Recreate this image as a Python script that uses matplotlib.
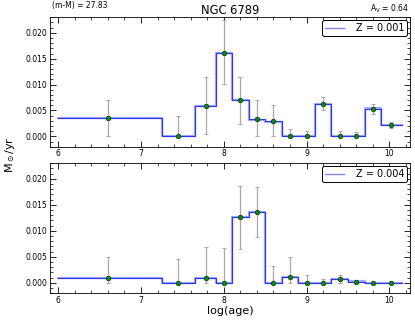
import numpy as np
import matplotlib.pyplot as plt
from matplotlib.ticker import MultipleLocator

# bin edges in log(age)
edges = [6.0, 7.25, 7.65, 7.9, 8.1, 8.3, 8.5, 8.7, 8.9, 9.1, 9.3, 9.5, 9.7, 9.9, 10.15]
centers = [6.6, 7.45, 7.78, 8.0, 8.2, 8.4, 8.6, 8.8, 9.0, 9.2, 9.4, 9.6, 9.8, 10.02]

# Z = 0.001
sfr_a = [0.0035, 0.0, 0.0059, 0.0161, 0.0070, 0.0033, 0.0029, 0.0, 0.0, 0.0063, 0.0, 0.0, 0.0053, 0.0021]
step_a_light = [0.0035, 0.0, 0.0059, 0.0161, 0.0070, 0.0032, 0.0028, 0.0, 0.0, 0.0063, 0.0, 0.0, 0.0054, 0.0022]
err_hi_a = [0.0070, 0.0040, 0.0114, 0.0225, 0.0115, 0.0070, 0.0060, 0.0014, 0.0010, 0.0076, 0.0010, 0.0008, 0.0062, 0.0027]
err_lo_a = [0.0, 0.0, 0.0005, 0.0101, 0.0024, 0.0001, 0.0, 0.0, 0.0, 0.0050, 0.0, 0.0, 0.0044, 0.0017]

# Z = 0.004
sfr_b = [0.0010, 0.0, 0.0009, 0.0, 0.0126, 0.0137, 0.0, 0.0012, 0.0, 0.0, 0.0007, 0.0001, 0.0, 0.0]
step_b_light = [0.0010, 0.0, 0.0010, 0.0, 0.0126, 0.0137, 0.0, 0.0012, 0.0, 0.0, 0.0008, 0.0003, 0.0, 0.0]
err_hi_b = [0.0049, 0.0045, 0.0069, 0.0068, 0.0187, 0.0184, 0.0033, 0.0050, 0.0015, 0.0008, 0.0015, 0.0003, 0.0, 0.0]
err_lo_b = [0.0, 0.0, 0.0, 0.0, 0.0066, 0.0089, 0.0, 0.0, 0.0, 0.0, 0.0, 0.0, 0.0, 0.0]

labels = ['Z = 0.001', 'Z = 0.004']

fig = plt.figure(figsize=(4.15, 3.23), dpi=100)
ax1 = fig.add_axes([0.1205, 0.5458, 0.8675, 0.4006])
ax2 = fig.add_axes([0.1205, 0.092, 0.8675, 0.4025])

panels = [
    (ax1, sfr_a, step_a_light, err_hi_a, err_lo_a, labels[0]),
    (ax2, sfr_b, step_b_light, err_hi_b, err_lo_b, labels[1]),
]

for ax, sfr, light, hi, lo, lab in panels:
    ylight = np.append(light, light[-1])
    ydark = np.append(sfr, sfr[-1])
    ax.step(edges, ylight, where='post', color='#a3a8ff', lw=1.6, label=lab)
    ax.step(edges, ydark, where='post', color='#2a35f0', lw=0.8)
    s = np.array(sfr)
    yerr = [s - np.array(lo), np.array(hi) - s]
    ax.errorbar(centers, sfr, yerr=yerr, fmt='none', ecolor='#a8a8a8',
                elinewidth=0.9, capsize=1.5, capthick=0.7)
    ax.plot(centers, sfr, 'o', color='#0f8a0f', mec='#0a3a0a', mew=0.5, ms=3.3)

    ax.set_xlim(5.9, 10.25)
    ax.set_ylim(-0.002, 0.023)
    ax.xaxis.set_major_locator(MultipleLocator(1))
    ax.xaxis.set_minor_locator(MultipleLocator(0.2))
    ax.yaxis.set_major_locator(MultipleLocator(0.005))
    ax.yaxis.set_minor_locator(MultipleLocator(0.001))
    ax.yaxis.set_major_formatter(plt.FormatStrFormatter('%.3f'))
    ax.tick_params(which='both', direction='in', top=True, right=True, labelsize=5.5, pad=2)
    ax.tick_params(which='major', length=4, width=0.6)
    ax.tick_params(which='minor', length=2, width=0.5)
    for sp in ax.spines.values():
        sp.set_linewidth(0.6)
    leg = ax.legend(loc='upper right', fontsize=7, handlelength=2.0, borderpad=0.3,
                    handletextpad=1.2, borderaxespad=0.3, fancybox=True, framealpha=1)
    leg.get_frame().set_edgecolor('black')
    leg.get_frame().set_linewidth(0.7)
    leg.get_lines()[0].set_linewidth(1.0)
    leg.get_lines()[0].set_color('#7f86ff')

ax1.set_title('NGC 6789', fontsize=8.3, pad=2)
fig.text(0.125, 0.975, '(m-M) = 27.83', fontsize=5.5, va='baseline', ha='left')
fig.text(0.985, 0.963, r'A$_{\rm V}$ = 0.64', fontsize=5.5, va='baseline', ha='right')
fig.text(0.025, 0.52, r'M$_\odot$/yr', fontsize=8, rotation=90, va='center', ha='center')
ax2.set_xlabel('log(age)', fontsize=8, labelpad=1)

fig.savefig('out.png', dpi=100)
